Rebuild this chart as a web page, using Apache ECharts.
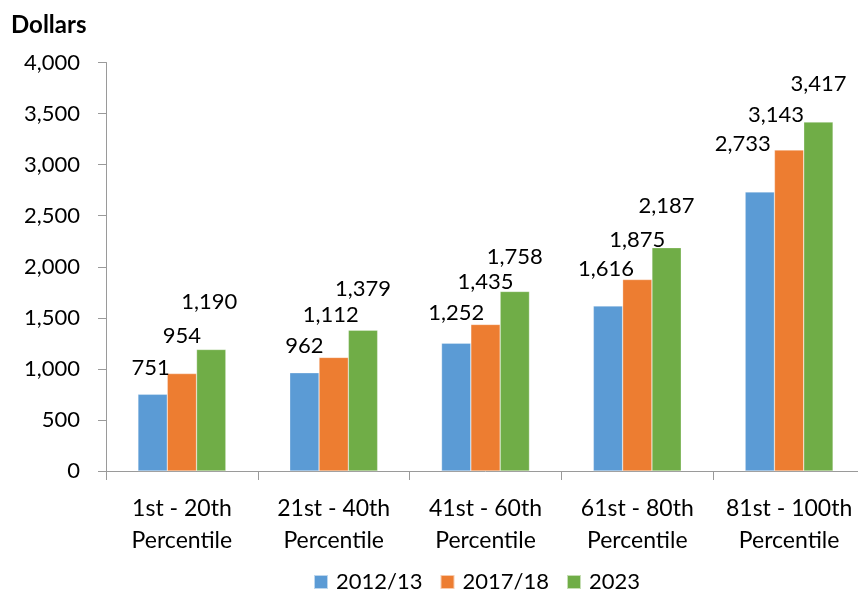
<!DOCTYPE html>
<html>
<head>
<meta charset="utf-8">
<script src="https://cdn.jsdelivr.net/npm/echarts@6/dist/echarts.min.js"></script>
<style>
  html, body { margin: 0; padding: 0; background: #fff; overflow: hidden; width: 858px; height: 597px; }
  /* the plot area runs a few pixels past the right edge of the page */
  #chart { width: 866px; height: 597px; }
</style>
</head>
<body>
<div id="chart"></div>
<script>
// Household spending by income quintile, in dollars
const categories = [
  '1st - 20th\nPercentile',
  '21st - 40th\nPercentile',
  '41st - 60th\nPercentile',
  '61st - 80th\nPercentile',
  '81st - 100th\nPercentile'
];
const seriesNames = ['2012/13', '2017/18', '2023'];
const values2012 = [751, 962, 1252, 1616, 2733];
const values2017 = [954, 1112, 1435, 1875, 3143];
const values2023 = [1190, 1379, 1758, 2187, 3417];
const yTicks = [0, 500, 1000, 1500, 2000, 2500, 3000, 3500, 4000];

// Hand-placed value labels: lift above the bar top and sideways nudge, in px
const labelLift = [
  [26, 27, 30, 37, 48],
  [38, 43, 43, 40, 35],
  [48, 41, 35, 42, 38]
];
const labelNudge = [
  [-2, 0, 0, -2, -17],
  [0, -3, 0, 0, -13],
  [-2, 0, 0, 0, 0]
];

const colors = ['#5B9BD5', '#ED7D31', '#70AD47'];
const FONT = 'Lato, "Liberation Sans", sans-serif';
const TEXT = '#000000';
const AXIS = '#9a9a9a';

function fmt(v) {
  return v.toLocaleString('en-US');
}

function buildSeries(idx, values) {
  return {
    name: seriesNames[idx],
    type: 'bar',
    barWidth: 29.3,
    barGap: '0%',
    itemStyle: { color: colors[idx], borderColor: 'rgba(255,255,255,0.6)', borderWidth: 0.5 },
    label: {
      show: true,
      position: 'top',
      verticalAlign: 'middle',
      fontFamily: FONT,
      fontSize: 22,
      color: TEXT,
      formatter: p => fmt(p.value)
    },
    data: values.map((v, i) => ({
      value: v,
      label: { distance: labelLift[idx][i], offset: [labelNudge[idx][i], 0] }
    }))
  };
}

const chart = echarts.init(document.getElementById('chart'), null, { renderer: 'canvas' });
chart.setOption({
  animation: false,
  backgroundColor: '#ffffff',
  color: colors,
  title: {
    text: 'Dollars',
    left: 11,
    top: 13,
    padding: 0,
    textStyle: { fontFamily: FONT, fontSize: 24, fontWeight: 'bold', color: TEXT }
  },
  legend: {
    data: seriesNames,
    left: 313,
    top: 571,
    itemWidth: 14,
    itemHeight: 14,
    itemGap: 17,
    icon: 'rect',
    padding: 0,
    textStyle: { fontFamily: FONT, fontSize: 22, color: TEXT, padding: [0, 0, 0, 3] }
  },
  grid: { left: 106, right: 1, top: 62.5, bottom: 126 },
  xAxis: {
    type: 'category',
    data: categories,
    axisLine: { lineStyle: { color: AXIS, width: 1 } },
    axisTick: { show: true, length: 9, lineStyle: { color: AXIS } },
    axisLabel: {
      margin: 22,
      fontFamily: FONT,
      fontSize: 23,
      lineHeight: 32,
      color: TEXT,
      interval: 0
    },
    splitLine: { show: false }
  },
  yAxis: {
    type: 'value',
    min: yTicks[0],
    max: yTicks[yTicks.length - 1],
    interval: yTicks[1] - yTicks[0],
    axisLine: { show: true, lineStyle: { color: AXIS, width: 1 } },
    axisTick: { show: true, length: 8, lineStyle: { color: AXIS } },
    axisLabel: {
      margin: 26,
      fontFamily: FONT,
      fontSize: 22,
      color: TEXT,
      formatter: v => fmt(v)
    },
    splitLine: { show: false }
  },
  series: [
    buildSeries(0, values2012),
    buildSeries(1, values2017),
    buildSeries(2, values2023)
  ]
});
</script>
</body>
</html>
